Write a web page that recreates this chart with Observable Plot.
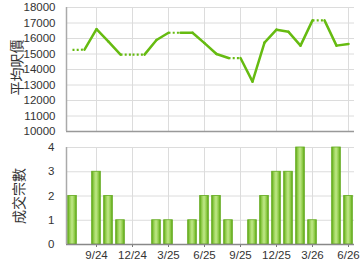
<!DOCTYPE html>
<html><head><meta charset="utf-8">
<script src="https://cdn.jsdelivr.net/npm/d3@7"></script>
<script src="https://cdn.jsdelivr.net/npm/@observablehq/plot@0.6"></script>
<style>
body{margin:0;background:#fff;}
#chart{width:360px;height:270px;overflow:hidden;}
#chart svg{display:block;}
</style></head>
<body><div id="chart"></div>
<script>
const months = ["7/24","8/24","9/24","10/24","11/24","12/24","1/25","2/25","3/25","4/25","5/25","6/25","7/25","8/25","9/25","10/25","11/25","12/25","1/26","2/26","3/26","4/26","5/26","6/26"];
const prices = [15260,15280,16600,15800,14960,14960,14960,15900,16370,16370,16370,15700,15000,14740,14740,13220,15740,16570,16430,15540,17170,17170,15540,15650];
const counts = [2,0,3,2,1,0,0,1,1,0,1,2,2,1,0,1,2,3,3,4,1,0,4,2];
const xTickLabels = ["9/24","12/24","3/25","6/25","9/25","12/25","3/26","6/26"];
const priceTicks = [10000,11000,12000,13000,14000,15000,16000,17000,18000];
const countTicks = [0,1,2,3,4];

const tickIdx = xTickLabels.map(l => months.indexOf(l));
const rows = months.map((m,i) => ({i, m, price: prices[i], n: counts[i]}));
const segs = rows.slice(1).map((d,k) => ({x1: rows[k].i, y1: rows[k].price, x2: d.i, y2: d.price, dotted: d.n === 0}));

const green = "#66bb11";
const font = "'Liberation Sans', Arial, sans-serif";
const cjk = "'Noto Sans CJK TC', 'Noto Sans CJK SC', sans-serif";
const ns = "http://www.w3.org/2000/svg";

function defsMark() {
  const defs = document.createElementNS(ns, "defs");
  const g = document.createElementNS(ns, "linearGradient");
  g.setAttribute("id", "barGrad");
  g.setAttribute("x1", "0"); g.setAttribute("x2", "1"); g.setAttribute("y1", "0"); g.setAttribute("y2", "0");
  [["0%","#5aa814"],["25%","#97d052"],["50%","#bfe888"],["75%","#97d052"],["100%","#5aa814"]].forEach(([o,c]) => {
    const s = document.createElementNS(ns, "stop");
    s.setAttribute("offset", o); s.setAttribute("stop-color", c);
    g.appendChild(s);
  });
  defs.appendChild(g);
  return defs;
}

const common = {
  width: 360, marginLeft: 66, marginRight: 6,
  style: {fontFamily: font, fontSize: "11px", color: "#333", background: "#fff", overflow: "visible"}
};

const topChart = Plot.plot({
  ...common,
  height: 138, marginTop: 7, marginBottom: 7,
  x: {domain: [-0.5, 23.5], axis: null},
  y: {domain: [10000, 18000], axis: null},
  marks: [
    Plot.gridY(priceTicks, {stroke: "#dcdcdc", strokeOpacity: 1}),
    Plot.gridX(tickIdx, {stroke: "#dcdcdc", strokeOpacity: 1}),
    Plot.axisY(priceTicks, {tickSize: 0, tickPadding: 11, fontSize: 11.5, tickFormat: d => String(d), label: null}),
    Plot.ruleY([10000], {stroke: "#999", strokeWidth: 1.5}),
    Plot.ruleX([-0.5], {stroke: "#aaa", strokeWidth: 1.5}),
    Plot.link(segs.filter(d => !d.dotted), {x1: "x1", y1: "y1", x2: "x2", y2: "y2", stroke: green, strokeWidth: 2.5, strokeLinecap: "round"}),
    Plot.link(segs.filter(d => d.dotted), {x1: "x1", y1: "y1", x2: "x2", y2: "y2", stroke: green, strokeWidth: 2.2, strokeDasharray: "2,2.2"}),
    Plot.text(["平均呎價"], {frameAnchor: "left", textAnchor: "middle", lineAnchor: "middle", dx: -49, dy: -2, rotate: -90, fontSize: 14, fontFamily: cjk, fill: "#333"})
  ]
});

const bottomChart = Plot.plot({
  ...common,
  height: 132, marginTop: 9, marginBottom: 26,
  x: {domain: [-0.5, 23.5], axis: null},
  y: {domain: [0, 4], axis: null},
  marks: [
    defsMark,
    Plot.gridY(countTicks, {stroke: "#dcdcdc", strokeOpacity: 1}),
    Plot.gridX(tickIdx, {stroke: "#dcdcdc", strokeOpacity: 1}),
    Plot.axisY(countTicks, {tickSize: 0, tickPadding: 12, fontSize: 11.5, label: null}),
    Plot.axisX(tickIdx, {tickSize: 3, tickPadding: 3, fontSize: 11.5, tickFormat: i => months[i], stroke: "#777", label: null}),
    Plot.rectY(rows.filter(d => d.n > 0), {x1: d => d.i - 0.36, x2: d => d.i + 0.36, y: "n", fill: "url(#barGrad)", stroke: "#62aa1c", strokeWidth: 0.8}),
    Plot.ruleY([0], {stroke: "#888", strokeWidth: 1.5}),
    Plot.ruleX([-0.5], {stroke: "#aaa", strokeWidth: 1.5}),
    Plot.text(["成交宗數"], {frameAnchor: "left", textAnchor: "middle", lineAnchor: "middle", dx: -47, rotate: -90, fontSize: 14, fontFamily: cjk, fill: "#333"})
  ]
});

const el = document.getElementById("chart");
el.appendChild(topChart);
el.appendChild(bottomChart);
</script>
</body></html>
